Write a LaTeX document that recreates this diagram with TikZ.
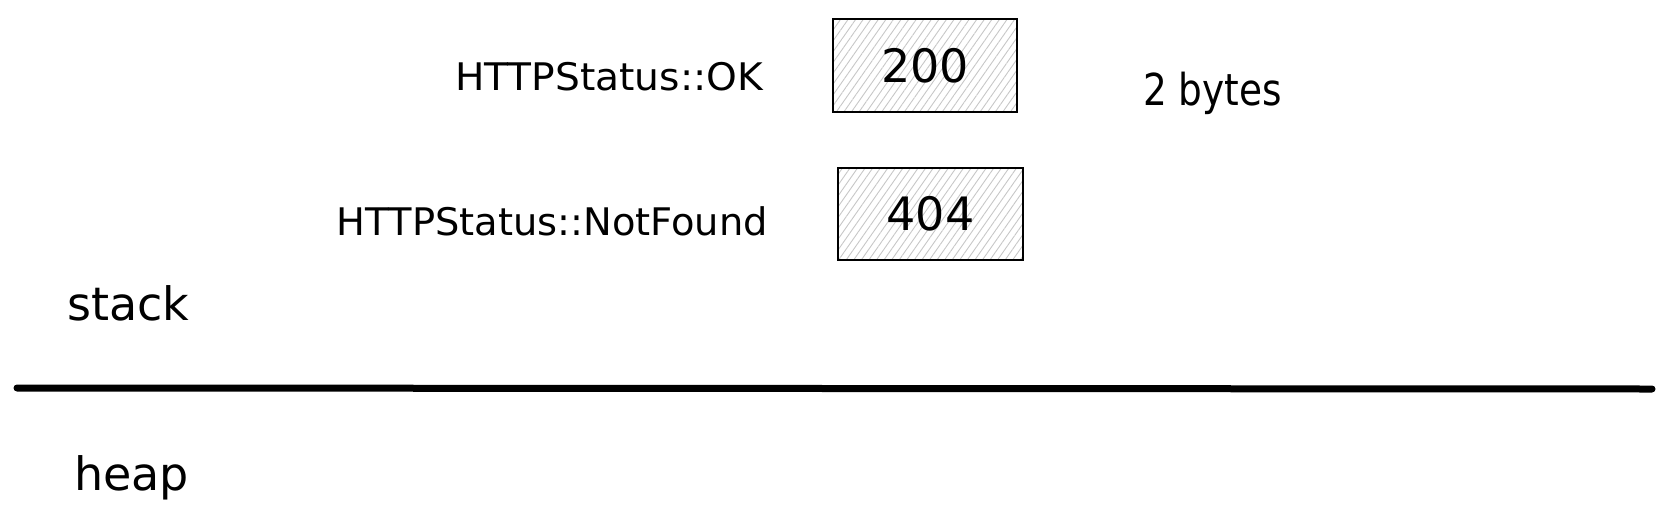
\documentclass[tikz,border=0pt]{standalone}
\usepackage{fontspec}
\setmainfont{DejaVu Sans}
\usetikzlibrary{patterns.meta}
\begin{document}
\begin{tikzpicture}[x=1pt,y=-1pt,
  mem/.style={draw=black, line width=2pt,
    pattern={Lines[angle=55,distance=6.2pt,line width=0.9pt]}, pattern color=black!22,
    inner sep=0pt, font=\fontsize{46}{50}\selectfont},
  lbl/.style={inner sep=0pt, font=\fontsize{38}{44}\selectfont, anchor=base east},
  big/.style={inner sep=0pt, font=\fontsize{46}{52}\selectfont, anchor=base west}]
\useasboundingbox (0,0) rectangle (1668,528);
\node[mem, minimum width=184pt, minimum height=93pt] (ok) at (925,65.5) {200};
\node[lbl] (okl) at (763,90) {\scalebox{1.03}[1]{HTTPStatus::OK}};
\node[mem, minimum width=185pt, minimum height=92pt] (nf) at (930.5,214) {404};
\node[lbl] (nfl) at (768,235) {\scalebox{1.01}[1]{HTTPStatus::NotFound}};
\node[big, font=\fontsize{44}{50}\selectfont] (sz) at (1143,105) {\scalebox{0.85}[1]{2 bytes}};
\node[big] (st) at (67,320) {stack};
\node[big] (hp) at (74,490) {heap};
\coordinate (l1) at (17,388);
\coordinate (l2) at (1652,389);
\draw[line width=7pt, line cap=round] (l1) -- (l2);
\end{tikzpicture}
\end{document}
